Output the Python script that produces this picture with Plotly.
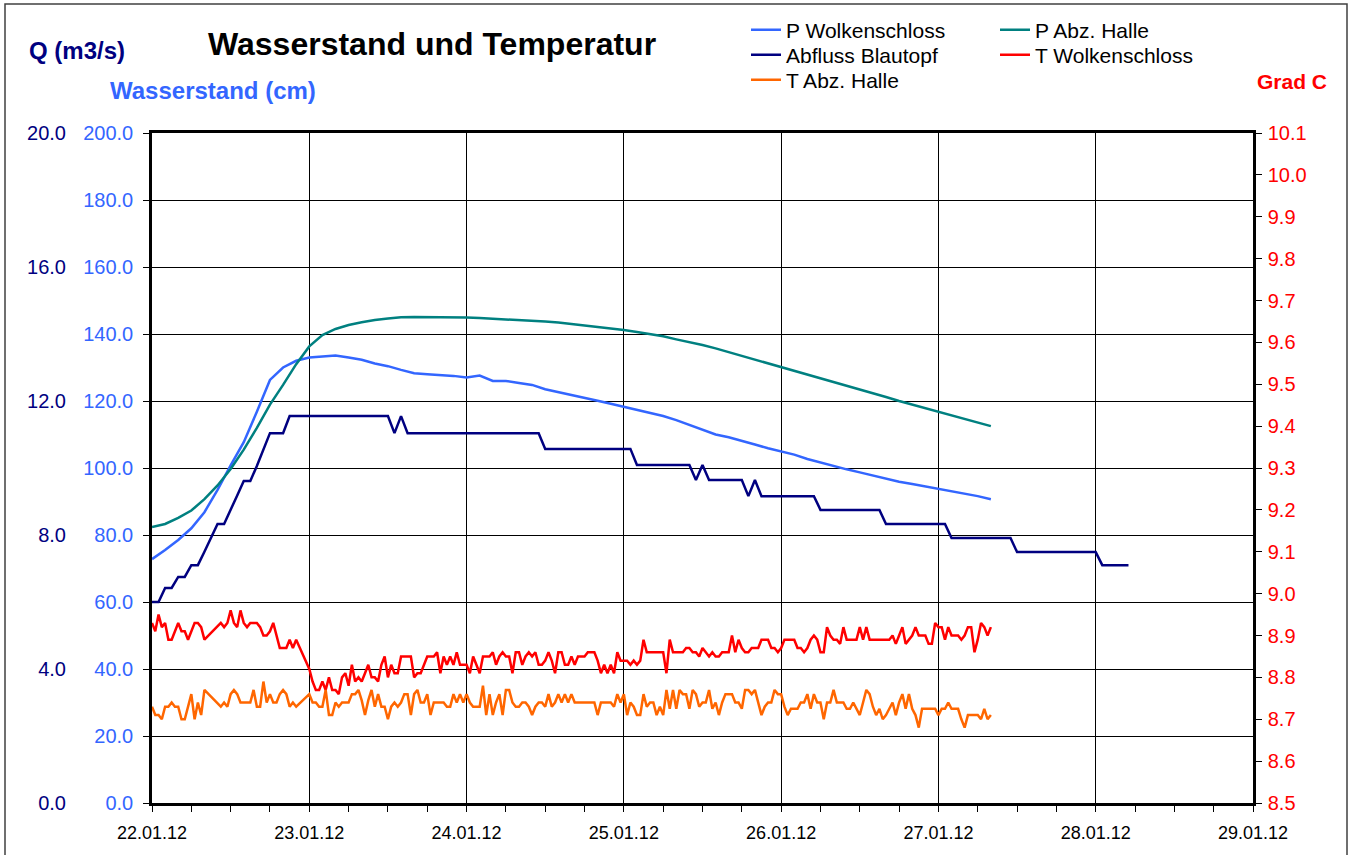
import plotly.graph_objects as go
import pandas as pd

# ---------------- data ----------------
# Temperatures, half-hourly from 22.01.12 00:00 (None = missing reading)
temp_start = "2012-01-22 00:00"
temp_freq = "30min"
t_wolkenschloss = [
    8.93, 8.91, 8.95, 8.92, 8.93, 8.89, 8.89, 8.91, 8.93, 8.91,
    8.91, 8.89, 8.91, 8.93, 8.93, 8.92, 8.89, None, None, None,
    None, 8.93, 8.92, 8.93, 8.96, 8.93, 8.92, 8.96, 8.93, 8.92,
    8.93, 8.93, 8.93, 8.92, 8.90, 8.90, 8.91, 8.93, 8.90, 8.87,
    8.87, 8.87, 8.89, 8.87, 8.89, None, None, None, 8.82, 8.79,
    8.77, 8.77, 8.79, 8.77, 8.80, 8.77, 8.77, 8.76, 8.80, 8.81,
    8.78, 8.83, 8.79, 8.80, 8.79, 8.81, 8.83, 8.80, 8.80, 8.79,
    8.83, 8.85, 8.80, 8.83, 8.81, 8.81, 8.85, 8.85, 8.85, 8.85,
    8.80, 8.81, 8.81, 8.83, 8.85, 8.85, 8.85, 8.86, 8.81, 8.85,
    8.83, 8.85, 8.83, 8.86, 8.83, 8.83, 8.83, 8.81, 8.85, 8.83,
    8.81, 8.85, 8.85, 8.85, 8.86, 8.83, 8.85, 8.86, 8.85, 8.85,
    8.81, 8.86, 8.86, 8.83, 8.85, 8.86, 8.85, 8.86, 8.83, 8.83,
    8.84, 8.86, 8.84, 8.81, 8.86, 8.86, 8.83, 8.83, 8.85, 8.83,
    8.85, 8.85, 8.85, 8.86, 8.86, 8.86, 8.84, 8.81, 8.83, 8.81,
    8.83, 8.81, 8.86, 8.84, 8.84, 8.84, 8.83, 8.84, 8.83, 8.84,
    8.89, 8.86, 8.86, 8.86, 8.86, 8.86, 8.86, 8.81, 8.89, 8.86,
    8.86, 8.86, 8.86, 8.87, 8.87, 8.86, 8.86, 8.85, 8.87, 8.86,
    8.85, 8.86, 8.85, 8.85, 8.86, 8.86, 8.86, 8.90, 8.86, 8.89,
    8.87, 8.86, 8.86, 8.87, 8.87, 8.87, 8.89, 8.89, 8.89, 8.87,
    8.87, 8.86, 8.87, 8.89, 8.89, 8.89, 8.89, 8.87, 8.87, 8.86,
    8.87, 8.89, 8.90, 8.89, 8.86, 8.86, 8.92, 8.90, 8.89, 8.89,
    8.88, 8.92, 8.89, 8.89, 8.89, 8.89, 8.92, 8.89, 8.92, 8.89,
    8.89, 8.89, 8.89, 8.89, 8.89, 8.89, 8.90, 8.88, 8.90, 8.92,
    8.88, 8.89, 8.90, 8.92, 8.90, 8.90, 8.90, 8.88, 8.88, 8.93,
    8.92, 8.92, 8.89, 8.92, 8.90, 8.90, 8.90, 8.89, 8.90, 8.92,
    8.92, 8.86, 8.89, 8.93, 8.92, 8.90, 8.92,
]
t_abz_halle = [
    8.73, 8.71, 8.71, 8.70, 8.73, 8.73, 8.74, 8.73, 8.73, 8.70,
    8.70, 8.73, 8.76, 8.70, 8.74, 8.71, 8.77, None, None, None,
    None, 8.73, 8.74, 8.73, 8.76, 8.77, 8.76, 8.74, 8.74, 8.74,
    8.74, 8.77, 8.73, 8.73, 8.79, 8.74, 8.76, 8.74, 8.74, 8.76,
    8.77, 8.76, 8.73, 8.74, 8.73, None, None, None, 8.76, 8.74,
    8.74, 8.73, 8.73, 8.77, 8.71, 8.71, 8.74, 8.73, 8.74, 8.74,
    8.74, 8.76, 8.76, 8.77, 8.745, 8.71, 8.745, 8.77, 8.73, 8.76,
    8.73, 8.73, 8.70, 8.73, 8.74, 8.73, 8.74, 8.76, 8.76, 8.71,
    8.76, 8.77, 8.74, 8.74, 8.76, 8.71, 8.74, 8.74, 8.74, 8.74,
    8.73, 8.73, 8.76, 8.74, 8.76, 8.74, 8.76, 8.74, 8.73, 8.73,
    8.73, 8.78, 8.71, 8.76, 8.71, 8.74, 8.76, 8.71, 8.77, 8.77,
    8.74, 8.73, 8.73, 8.74, 8.74, 8.73, 8.71, 8.73, 8.74, 8.74,
    8.73, 8.76, 8.73, 8.74, 8.76, 8.74, 8.76, 8.74, 8.76, 8.74,
    8.74, 8.74, 8.74, 8.74, 8.74, 8.74, 8.71, 8.74, 8.74, 8.74,
    8.74, 8.73, 8.76, 8.74, 8.76, 8.71, 8.74, 8.73, 8.71, 8.71,
    8.76, 8.73, 8.74, 8.74, 8.71, 8.73, 8.71, 8.77, 8.725, 8.77,
    8.725, 8.77, 8.76, 8.76, 8.725, 8.77, 8.76, 8.73, 8.74, 8.74,
    8.77, 8.725, 8.74, 8.71, 8.74, 8.76, 8.76, 8.76, 8.74, 8.74,
    8.725, 8.77, 8.77, 8.76, 8.77, 8.74, 8.71, 8.73, 8.74, 8.74,
    8.77, 8.76, 8.76, 8.73, 8.71, 8.725, 8.725, 8.725, 8.74, 8.74,
    8.76, 8.725, 8.76, 8.74, 8.74, 8.70, 8.74, 8.74, 8.77, 8.74,
    8.74, 8.74, 8.725, 8.725, 8.74, 8.725, 8.71, 8.74, 8.77, 8.76,
    8.73, 8.71, 8.725, 8.70, 8.71, 8.725, 8.74, 8.71, 8.74, 8.76,
    8.725, 8.76, 8.725, 8.71, 8.68, 8.725, 8.725, 8.725, 8.725, 8.725,
    8.71, 8.725, 8.725, 8.74, 8.725, 8.725, 8.725, 8.70, 8.68, 8.71,
    8.71, 8.71, 8.71, 8.70, 8.725, 8.70, 8.71,
]

# Water levels (cm), every 2 hours from 22.01.12 00:00
level_start = "2012-01-22 00:00"
level_freq = "2h"
p_wolkenschloss = [
    72.8, 75.5, 78.5, 82.0, 86.8, 93.5, 100.8, 107.7, 116.8, 126.3,
    130.0, 132.0, 133.0, 133.4, 133.6, 133.0, 132.3, 131.2, 130.4, 129.3,
    128.3, 128.0, 127.8, 127.5, 127.0, 127.6, 126.0, 126.0, 125.4, 124.8,
    123.5, 122.7, 121.9, 121.0, 120.1, 119.2, 118.3, 117.5, 116.6, 115.5,
    114.3, 112.8, 111.4, 110.0, 109.2, 108.2, 107.0, 105.9, 104.9, 104.0,
    102.7, 101.6, 100.6, 99.6, 98.7, 97.7, 96.8, 95.9, 95.2, 94.5,
    93.9, 93.1, 92.4, 91.6, 90.7,
]
p_abz_halle = [
    82.4, 83.3, 85.1, 87.3, 90.7, 94.8, 99.7, 105.5, 112.0, 118.9,
    124.8, 131.0, 136.3, 139.7, 141.5, 142.7, 143.5, 144.2, 144.6, 145.0,
    145.1, 145.1, 145.1, 145.0, 144.9, 144.8, 144.6, 144.5, 144.3, 144.0,
    143.7, 143.4, 143.0, 142.6, 142.2, 141.7, 141.2, 140.6, 140.0, 139.3,
    138.4, 137.6, 136.7, 135.7, 134.6, 133.5, 132.4, 131.3, 130.2, 129.1,
    128.0, 126.9, 125.7, 124.6, 123.5, 122.3, 121.2, 120.0, 118.9, 117.8,
    116.7, 115.6, 114.6, 113.5, 112.5,
]

# Discharge (m3/s), hourly from 22.01.12 00:00
flow_start = "2012-01-22 00:00"
flow_freq = "1h"
abfluss_blautopf = [
    6.0, 6.0, 6.42, 6.42, 6.75, 6.75, 7.10, 7.10, 7.5, 7.9,
    8.33, 8.33, 8.73, 9.18, 9.61, 9.61, 10.06, 10.55, 11.04, 11.04,
    11.04, 11.55, 11.55, 11.55, 11.55, 11.55, 11.55, 11.55, 11.55, 11.55,
    11.55, 11.55, 11.55, 11.55, 11.55, 11.55, 11.55, 11.04, 11.55, 11.04,
    11.04, 11.04, 11.04, 11.04, 11.04, 11.04, 11.04, 11.04, 11.04, 11.04,
    11.04, 11.04, 11.04, 11.04, 11.04, 11.04, 11.04, 11.04, 11.04, 11.04,
    10.57, 10.57, 10.57, 10.57, 10.57, 10.57, 10.57, 10.57, 10.57, 10.57,
    10.57, 10.57, 10.57, 10.57, 10.09, 10.09, 10.09, 10.09, 10.09, 10.09,
    10.09, 10.09, 10.09, 9.64, 10.09, 9.64, 9.64, 9.64, 9.64, 9.64,
    9.64, 9.16, 9.64, 9.16, 9.16, 9.16, 9.16, 9.16, 9.16, 9.16,
    9.16, 9.16, 8.75, 8.75, 8.75, 8.75, 8.75, 8.75, 8.75, 8.75,
    8.75, 8.75, 8.33, 8.33, 8.33, 8.33, 8.33, 8.33, 8.33, 8.33,
    8.33, 8.33, 7.91, 7.91, 7.91, 7.91, 7.91, 7.91, 7.91, 7.91,
    7.91, 7.91, 7.49, 7.49, 7.49, 7.49, 7.49, 7.49, 7.49, 7.49,
    7.49, 7.49, 7.49, 7.49, 7.49, 7.10, 7.10, 7.10, 7.10, 7.10,
]

x_range = ["2012-01-22 00:00", "2012-01-29 00:00"]
q_ticks = [0, 4, 8, 12, 16, 20]

temp_times = pd.date_range(temp_start, periods=len(t_wolkenschloss), freq=temp_freq)
level_times = pd.date_range(level_start, periods=len(p_wolkenschloss), freq=level_freq)
flow_times = pd.date_range(flow_start, periods=len(abfluss_blautopf), freq=flow_freq)

# ---------------- layout helpers ----------------
W, H = 1359, 855
ML, MR, MT, MB = 40, 106, 133, 52
PW, PH = W - ML - MR, H - MT - MB
FONT = "Arial, Liberation Sans, sans-serif"


def px(x):
    return (x - ML) / PW


def py(y):
    return (H - MB - y) / PH


C_WOLK = "#3366FF"
C_HALLE = "#008080"
C_FLOW = "#000080"
C_TW = "#FF0000"
C_TH = "#FF6600"

fig = go.Figure()
fig.add_trace(go.Scatter(x=level_times, y=p_wolkenschloss, name="P Wolkenschloss",
                         mode="lines", line=dict(color=C_WOLK, width=2.5), legend="legend"))
fig.add_trace(go.Scatter(x=level_times, y=p_abz_halle, name="P Abz. Halle",
                         mode="lines", line=dict(color=C_HALLE, width=2.5), legend="legend"))
fig.add_trace(go.Scatter(x=flow_times, y=abfluss_blautopf, name="Abfluss Blautopf", yaxis="y2",
                         mode="lines", line=dict(color=C_FLOW, width=2.5), legend="legend2"))
fig.add_trace(go.Scatter(x=temp_times, y=t_wolkenschloss, name="T Wolkenschloss", yaxis="y3",
                         mode="lines", connectgaps=True, line=dict(color=C_TW, width=2.5),
                         legend="legend2"))
fig.add_trace(go.Scatter(x=temp_times, y=t_abz_halle, name="T Abz. Halle", yaxis="y3",
                         mode="lines", connectgaps=True, line=dict(color=C_TH, width=2.5),
                         legend="legend3"))

leg_common = dict(orientation="h", xref="container", yref="container",
                  xanchor="left", yanchor="middle", entrywidth=204, entrywidthmode="pixels",
                  font=dict(family=FONT, size=21, color="black"),
                  bgcolor="rgba(0,0,0,0)", borderwidth=0)

fig.update_layout(
    width=W, height=H,
    margin=dict(l=ML, r=MR, t=MT, b=MB, autoexpand=False),
    paper_bgcolor="white", plot_bgcolor="white",
    font=dict(family=FONT, color="black"),
    showlegend=True,
    legend=dict(leg_common, x=746 / W, y=1 - 30 / H),
    legend2=dict(leg_common, x=746 / W, y=1 - 55 / H),
    legend3=dict(leg_common, x=746 / W, y=1 - 80 / H),
    xaxis=dict(
        domain=[px(152), 1], type="date", range=x_range, automargin=False,
        dtick=86400000, tick0="2012-01-22", tickformat="%d.%m.%y",
        showgrid=True, gridcolor="black", gridwidth=1,
        showline=True, linecolor="black", linewidth=2.5, mirror=True,
        ticks="outside", ticklen=6, tickcolor="black", tickwidth=1,
        minor=dict(dtick=21600000, ticks="outside", ticklen=6, tickcolor="black", showgrid=False),
        tickfont=dict(size=18, color="black"), ticklabelstandoff=6,
        zeroline=False,
    ),
    yaxis=dict(
        range=[0, 200], dtick=20, tick0=0, tickformat=".1f", automargin=False,
        showgrid=True, gridcolor="black", gridwidth=1,
        showline=True, linecolor="black", linewidth=2.5, mirror=True,
        ticks="outside", ticklen=6, tickcolor="black",
        tickfont=dict(size=20, color=C_WOLK), ticklabelstandoff=6, zeroline=False,
    ),
    yaxis2=dict(
        overlaying="y", side="left", anchor="free", position=px(66), automargin=False,
        range=[0, 20], tickvals=q_ticks, tickformat=".1f",
        showgrid=False, showline=False, ticks="", zeroline=False,
        tickfont=dict(size=20, color=C_FLOW),
    ),
    yaxis3=dict(
        overlaying="y", side="right", anchor="x", automargin=False,
        range=[8.5, 10.1], dtick=0.1, tick0=8.5, tickformat=".1f",
        showgrid=False, showline=True, linecolor="black", linewidth=2.5,
        ticks="outside", ticklen=6, tickcolor="black", zeroline=False,
        tickfont=dict(size=20, color=C_TW), ticklabelstandoff=2,
    ),
    annotations=[
        dict(text="<b>Wasserstand und Temperatur</b>", x=px(432), y=py(44), xref="paper", yref="paper",
             showarrow=False, xanchor="center", yanchor="middle", font=dict(size=32, color="black")),
        dict(text="<b>Q (m3/s)</b>", x=px(77), y=py(51), xref="paper", yref="paper",
             showarrow=False, xanchor="center", yanchor="middle", font=dict(size=24, color=C_FLOW)),
        dict(text="<b>Wasserstand (cm)</b>", x=px(213), y=py(91), xref="paper", yref="paper",
             showarrow=False, xanchor="center", yanchor="middle", font=dict(size=24, color=C_WOLK)),
        dict(text="<b>Grad C</b>", x=px(1292), y=py(81), xref="paper", yref="paper",
             showarrow=False, xanchor="center", yanchor="middle", font=dict(size=21, color=C_TW)),
    ],
    shapes=[
        dict(type="rect", xref="paper", yref="paper", x0=px(5), x1=px(1347), y0=py(860), y1=py(4),
             line=dict(color="#404040", width=1.5), fillcolor="rgba(0,0,0,0)", layer="below"),
    ],
)

fig.write_html("out.html", config={"displayModeBar": False},
               post_script="document.body.style.margin='0px';")
